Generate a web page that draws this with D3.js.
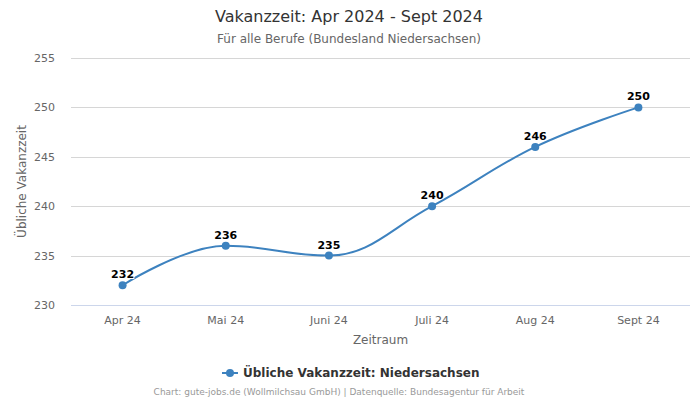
<!DOCTYPE html>
<html><head><meta charset="utf-8">
<script src="https://cdn.jsdelivr.net/npm/d3@7"></script>
<style>body{margin:0;background:#fff;font-family:"DejaVu Sans",sans-serif}</style>
</head><body><svg id="c" width="700" height="400"></svg>
<script>
const categories = ["Apr 24","Mai 24","Juni 24","Juli 24","Aug 24","Sept 24"];
const values = [232,236,235,240,246,250];
const yTicks = [230,235,240,245,250,255];
const seriesName = "Übliche Vakanzzeit: Niedersachsen";
const color = "#3d82bf";

const svg = d3.select("#c");
const m = {l:71, r:690, t:58, b:305};
const x = d3.scaleBand().domain(categories).range([m.l, m.r]);
const y = d3.scaleLinear().domain([230,255]).range([m.b, m.t]);

svg.append("text").attr("x",349).attr("y",22).attr("text-anchor","middle")
  .attr("font-size",16).attr("fill","#333").text("Vakanzzeit: Apr 2024 - Sept 2024");
svg.append("text").attr("x",349).attr("y",43).attr("text-anchor","middle")
  .attr("font-size",12).attr("fill","#666").text("Für alle Berufe (Bundesland Niedersachsen)");

// grid
svg.append("g").selectAll("line").data(yTicks).join("line")
  .attr("x1",m.l).attr("x2",m.r).attr("y1",d=>Math.round(y(d))+0.5).attr("y2",d=>Math.round(y(d))+0.5)
  .attr("stroke","#d6d6d6").attr("stroke-width",1);
svg.append("line").attr("x1",m.l).attr("x2",m.r).attr("y1",m.b+0.5).attr("y2",m.b+0.5).attr("stroke","#ccd6eb");
svg.append("g").selectAll("text").data(yTicks).join("text")
  .attr("x",55).attr("y",d=>y(d)+4).attr("text-anchor","end").attr("font-size",11).attr("fill","#666").text(d=>d);
svg.append("g").selectAll("text").data(categories).join("text")
  .attr("x",d=>x(d)+x.bandwidth()/2).attr("y",324).attr("text-anchor","middle").attr("font-size",11).attr("fill","#666").text(d=>d);
svg.append("text").attr("transform","translate(26,"+((m.t+m.b)/2)+") rotate(-90)").attr("text-anchor","middle")
  .attr("font-size",12).attr("fill","#666").text("Übliche Vakanzzeit");
svg.append("text").attr("x",(m.l+m.r)/2).attr("y",344).attr("text-anchor","middle")
  .attr("font-size",12).attr("fill","#666").text("Zeitraum");

// Highcharts-like spline
const pts = values.map((v,i)=>({px:x(categories[i])+x.bandwidth()/2, py:y(v), v}));
const s = 1.5, den = s+1;
pts.forEach((p,i)=>{
  if(i===0||i===pts.length-1) return;
  const a=pts[i-1], n=pts[i+1];
  let lcx=(s*p.px+a.px)/den, lcy=(s*p.py+a.py)/den, rcx=(s*p.px+n.px)/den, rcy=(s*p.py+n.py)/den;
  if(rcx!==lcx){const c=((rcy-lcy)*(rcx-p.px))/(rcx-lcx)+p.py-rcy; lcy+=c; rcy+=c;}
  if(lcy>a.py&&lcy>p.py){lcy=Math.max(a.py,p.py);rcy=2*p.py-lcy;}
  else if(lcy<a.py&&lcy<p.py){lcy=Math.min(a.py,p.py);rcy=2*p.py-lcy;}
  if(rcy>n.py&&rcy>p.py){rcy=Math.max(n.py,p.py);lcy=2*p.py-rcy;}
  else if(rcy<n.py&&rcy<p.py){rcy=Math.min(n.py,p.py);lcy=2*p.py-rcy;}
  p.lc=[lcx,lcy]; p.rc=[rcx,rcy];
});
const path = d3.path();
pts.forEach((p,i)=>{
  if(i===0){path.moveTo(p.px,p.py);return;}
  const a=pts[i-1];
  const c1=a.rc||[a.px,a.py], c2=p.lc||[p.px,p.py];
  path.bezierCurveTo(c1[0],c1[1],c2[0],c2[1],p.px,p.py);
});
svg.append("path").attr("d",path.toString()).attr("fill","none").attr("stroke",color).attr("stroke-width",2);
svg.append("g").selectAll("circle").data(pts).join("circle")
  .attr("cx",d=>d.px).attr("cy",d=>d.py).attr("r",4).attr("fill",color);
svg.append("g").selectAll("text").data(pts).join("text")
  .attr("x",d=>d.px).attr("y",d=>d.py-7).attr("text-anchor","middle").attr("font-size",11).attr("font-weight","bold")
  .attr("fill","#000").attr("stroke","#fff").attr("stroke-width",2).attr("paint-order","stroke").attr("stroke-linejoin","round").text(d=>d.v);

// legend
const lg = svg.append("g");
lg.append("line").attr("x1",222).attr("x2",238).attr("y1",373).attr("y2",373).attr("stroke",color).attr("stroke-width",2);
lg.append("circle").attr("cx",230).attr("cy",373).attr("r",4).attr("fill",color);
lg.append("text").attr("x",243).attr("y",377).attr("font-size",12).attr("font-weight","bold").attr("fill","#333").text(seriesName);

svg.append("text").attr("x",339).attr("y",395).attr("text-anchor","middle").attr("font-size",9).attr("fill","#999")
  .text("Chart: gute-jobs.de (Wollmilchsau GmbH) | Datenquelle: Bundesagentur für Arbeit");
</script></body></html>
